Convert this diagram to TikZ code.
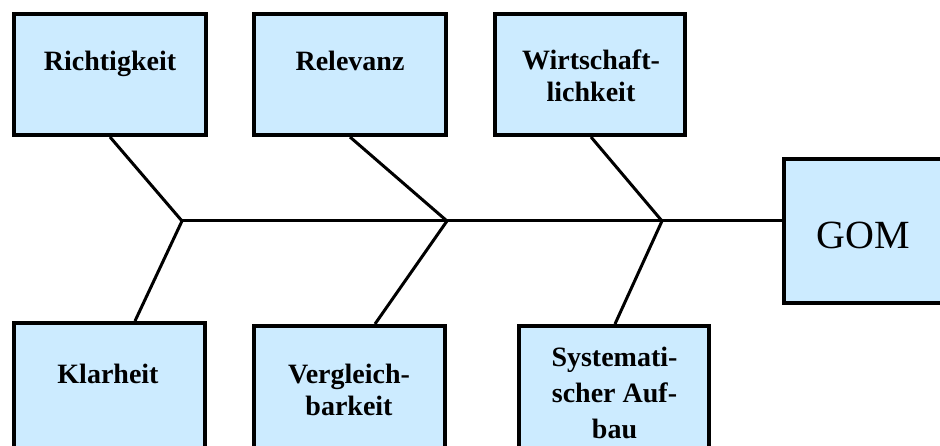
\documentclass[tikz,border=0pt]{standalone}
\usepackage{fontspec}
\setmainfont{Liberation Serif}
\definecolor{boxfill}{HTML}{CCEBFF}
\tikzset{
  box/.style={draw=black, line width=4pt, fill=boxfill, rectangle, inner sep=0pt},
  lbl/.style={font=\bfseries\fontsize{28}{32}\selectfont, align=center, anchor=base, inner sep=0pt},
  bone/.style={line width=3pt, line join=miter},
}
\begin{document}
\begin{tikzpicture}[x=1pt, y=-1pt]
  \useasboundingbox (0,0) rectangle (940,446);
  \clip (0,0) rectangle (940,446);

  % cause boxes above the spine
  \node[box, minimum width=192pt, minimum height=121pt] (rich) at (110,74.5) {};
  \node[box, minimum width=192pt, minimum height=121pt] (rele) at (350,74.5) {};
  \node[box, minimum width=190pt, minimum height=121pt] (wirt) at (590,74.5) {};
  % cause boxes below the spine
  \node[box, minimum width=191pt, minimum height=130pt] (klar) at (109.5,388) {};
  \node[box, minimum width=191pt, minimum height=130pt] (verg) at (349.5,391) {};
  \node[box, minimum width=190pt, minimum height=130pt] (syst) at (614,391) {};
  % effect box
  \node[box, minimum width=160pt, minimum height=144pt] (gom) at (864,231) {};

  % labels (base anchor sits on the last line's baseline)
  \node[lbl] (trich) at (110,71) {Richtigkeit};
  \node[lbl] (trele) at (350,71) {Relevanz};
  \node[lbl] (twirt) at (591,102) {Wirtschaft-\\lichkeit};
  \node[lbl] (tklar) at (108,383) {Klarheit};
  \node[lbl] (tverg) at (349,415) {Vergleich-\\barkeit};
  \node[lbl, font=\bfseries\fontsize{28}{36}\selectfont] (tsyst) at (614.5,438) {Systemati-\\scher Auf-\\bau};
  \node[font=\fontsize{40}{44}\selectfont, inner sep=0pt] (tgom) at (863,235) {GOM};

  % junctions on the spine
  \coordinate (j1) at (182,221);
  \coordinate (j2) at (447,221);
  \coordinate (j3) at (662,221);

  % spine and bones
  \draw[bone] (j1) -- (j1 -| gom.west);
  \draw[bone] (rich.south) -- (j1) -- ([xshift=25.5pt]klar.north);
  \draw[bone] (rele.south) -- (j2) -- ([xshift=25.5pt]verg.north);
  \draw[bone] ([xshift=1pt]wirt.south) -- (j3) -- ([xshift=1pt]syst.north);
\end{tikzpicture}
\end{document}
